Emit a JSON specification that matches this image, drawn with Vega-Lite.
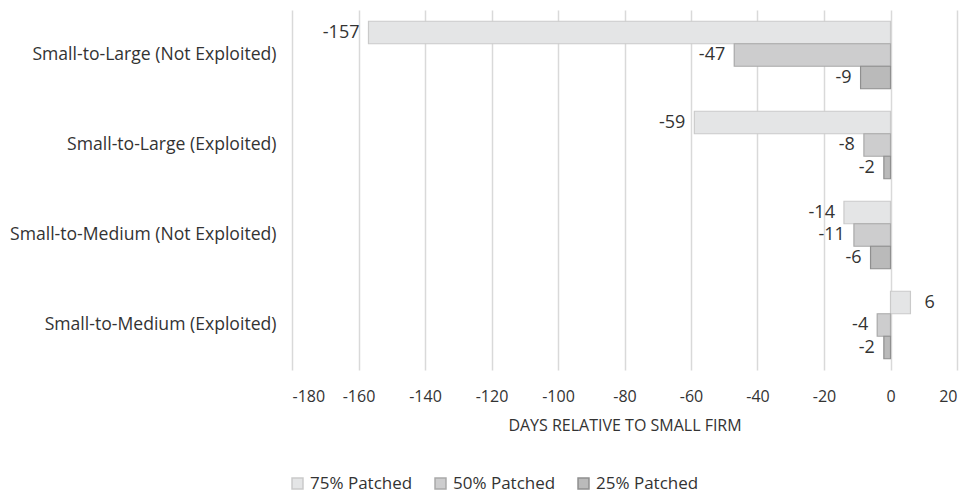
{
  "$schema": "https://vega.github.io/schema/vega-lite/v6.json",
  "autosize": {"type": "none"},
  "padding": {"left": 292, "top": 10, "right": 15, "bottom": 125},
  "width": 665,
  "height": 360,
  "background": "white",
  "config": {"font": "Open Sans", "view": {"stroke": null}},
  "data": {
    "values": [
      {"comparison": "Small-to-Large (Not Exploited)", "series": "75% Patched", "days": -157},
      {"comparison": "Small-to-Large (Not Exploited)", "series": "50% Patched", "days": -47},
      {"comparison": "Small-to-Large (Not Exploited)", "series": "25% Patched", "days": -9},
      {"comparison": "Small-to-Large (Exploited)", "series": "75% Patched", "days": -59},
      {"comparison": "Small-to-Large (Exploited)", "series": "50% Patched", "days": -8},
      {"comparison": "Small-to-Large (Exploited)", "series": "25% Patched", "days": -2},
      {"comparison": "Small-to-Medium (Not Exploited)", "series": "75% Patched", "days": -14},
      {"comparison": "Small-to-Medium (Not Exploited)", "series": "50% Patched", "days": -11},
      {"comparison": "Small-to-Medium (Not Exploited)", "series": "25% Patched", "days": -6},
      {"comparison": "Small-to-Medium (Exploited)", "series": "75% Patched", "days": 6},
      {"comparison": "Small-to-Medium (Exploited)", "series": "50% Patched", "days": -4},
      {"comparison": "Small-to-Medium (Exploited)", "series": "25% Patched", "days": -2}
    ]
  },
  "encoding": {
    "y": {
      "field": "comparison",
      "type": "nominal",
      "sort": ["Small-to-Large (Not Exploited)", "Small-to-Large (Exploited)", "Small-to-Medium (Not Exploited)", "Small-to-Medium (Exploited)"],
      "scale": {"paddingInner": 0.25, "paddingOuter": 0.125},
      "axis": {"title": null, "ticks": false, "domain": false, "grid": false, "labelFontSize": 17.6, "labelPadding": 16, "labelColor": "#333333", "labelLimit": 320}
    },
    "yOffset": {"field": "series", "type": "nominal", "sort": ["75% Patched", "50% Patched", "25% Patched"], "scale": {"paddingInner": 0, "paddingOuter": 0}},
    "x": {
      "field": "days",
      "type": "quantitative",
      "scale": {"domain": [-180, 20], "nice": false},
      "axis": {
        "values": [-180, -160, -140, -120, -100, -80, -60, -40, -20, 0, 20],
        "labelExpr": "datum.value + ''",
        "grid": true, "gridColor": "#d9d9d9", "gridWidth": 1.5,
        "domain": false, "ticks": false,
        "labelFontSize": 16, "labelPadding": 18, "labelColor": "#333333",
        "title": "DAYS RELATIVE TO SMALL FIRM", "titleFontSize": 16, "titleFontWeight": "normal", "titleColor": "#333333", "titlePadding": 13
      }
    }
  },
  "layer": [
    {
      "mark": {"type": "bar", "strokeWidth": 1.2},
      "encoding": {
        "color": {
          "field": "series", "type": "nominal",
          "sort": ["75% Patched", "50% Patched", "25% Patched"],
          "scale": {"domain": ["75% Patched", "50% Patched", "25% Patched"], "range": ["#e4e5e6", "#cdcdce", "#bababa"]},
          "legend": {"title": null, "orient": "none", "legendX": -3, "legendY": 465, "direction": "horizontal", "symbolType": "square", "symbolSize": 120, "labelFontSize": 17, "labelColor": "#333333", "columnPadding": 19, "labelOffset": 4}
        },
        "stroke": {
          "field": "series", "type": "nominal",
          "sort": ["75% Patched", "50% Patched", "25% Patched"],
          "scale": {"domain": ["75% Patched", "50% Patched", "25% Patched"], "range": ["#cacaca", "#a9a9a9", "#8f8f8f"]},
          "legend": {"title": null, "orient": "none", "legendX": -3, "legendY": 465, "direction": "horizontal", "symbolType": "square", "symbolSize": 120, "labelFontSize": 17, "labelColor": "#333333", "columnPadding": 19, "labelOffset": 4}
        }
      }
    },
    {
      "transform": [{"filter": "datum.days < 0"}],
      "mark": {"type": "text", "align": "right", "baseline": "middle", "dx": -9, "fontSize": 18, "color": "#333333"},
      "encoding": {"text": {"field": "days", "type": "nominal"}}
    },
    {
      "transform": [{"filter": "datum.days >= 0"}],
      "mark": {"type": "text", "align": "left", "baseline": "middle", "dx": 14, "fontSize": 18, "color": "#333333"},
      "encoding": {"text": {"field": "days", "type": "nominal"}}
    }
  ]
}
